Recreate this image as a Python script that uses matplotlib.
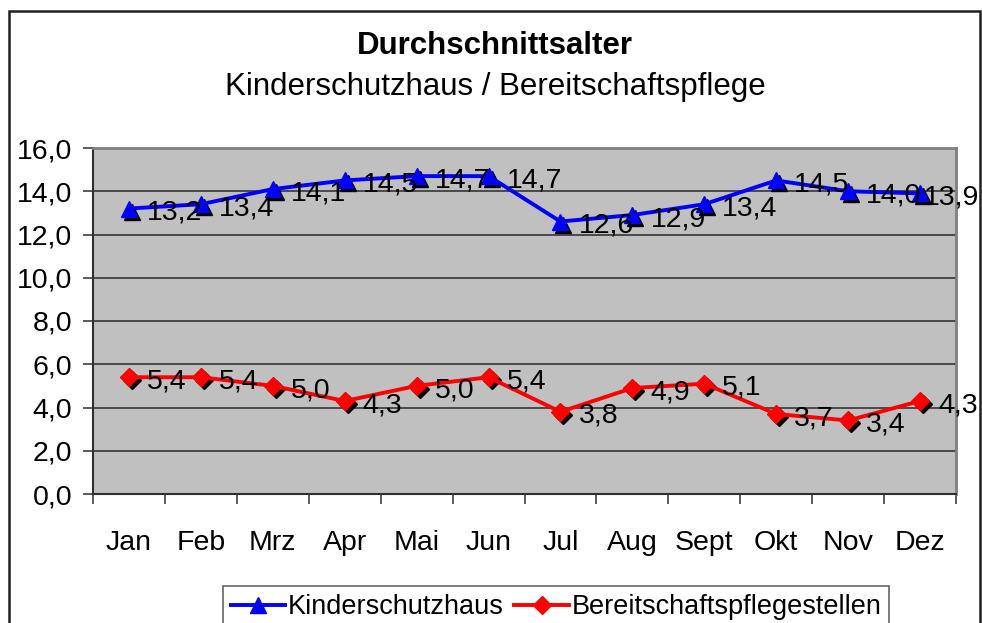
import matplotlib
matplotlib.use("Agg")
import matplotlib.pyplot as plt
import matplotlib.transforms as mtransforms
from matplotlib.patches import Rectangle

plt.rcParams['font.family'] = ['Liberation Sans', 'DejaVu Sans']

# Data
months = ['Jan', 'Feb', 'Mrz', 'Apr', 'Mai', 'Jun', 'Jul', 'Aug', 'Sept', 'Okt', 'Nov', 'Dez']
kinderschutzhaus = [13.2, 13.4, 14.1, 14.5, 14.7, 14.7, 12.6, 12.9, 13.4, 14.5, 14.0, 13.9]
bereitschaft = [5.4, 5.4, 5.0, 4.3, 5.0, 5.4, 3.8, 4.9, 5.1, 3.7, 3.4, 4.3]
y_ticks = [0, 2, 4, 6, 8, 10, 12, 14, 16]

fig = plt.figure(figsize=(9.82, 6.23), dpi=100)
ax = fig.add_axes([93 / 982, 1 - 494 / 623, (956 - 93) / 982, (494 - 148) / 623])
ax.set_facecolor('#C0C0C0')

x = list(range(len(months)))
shadow = mtransforms.offset_copy(ax.transData, fig=fig, x=3, y=-3, units='dots')

# marker shadows
ax.plot(x, kinderschutzhaus, linestyle='none', marker='^', markersize=11,
        color='black', transform=shadow, zorder=3, clip_on=False)
ax.plot(x, bereitschaft, linestyle='none', marker='D', markersize=9,
        color='black', transform=shadow, zorder=3, clip_on=False)

ax.plot(x, kinderschutzhaus, color='#0000FF', linewidth=2.8, marker='^',
        markersize=11, label='Kinderschutzhaus', zorder=4, clip_on=False)
ax.plot(x, bereitschaft, color='#FF0000', linewidth=2.8, marker='D',
        markersize=9, label='Bereitschaftspflegestellen', zorder=4, clip_on=False)

for i, v in enumerate(kinderschutzhaus):
    # last label is pushed left so it stays inside the chart, like Excel does
    dx = 3 if i == len(kinderschutzhaus) - 1 else 13
    ax.annotate(f'{v:.1f}'.replace('.', ','), (i, v), xytext=(dx, -3),
                textcoords='offset points', ha='left', va='center',
                fontsize=20.5, zorder=5, annotation_clip=False)
for i, v in enumerate(bereitschaft):
    ax.annotate(f'{v:.1f}'.replace('.', ','), (i, v), xytext=(13, -3),
                textcoords='offset points', ha='left', va='center',
                fontsize=20.5, zorder=5, annotation_clip=False)

ax.set_xlim(-0.5, len(months) - 0.5)
ax.set_ylim(0, 16)
ax.set_yticks(y_ticks)
ax.set_yticklabels([f'{t:.1f}'.replace('.', ',') for t in y_ticks], fontsize=20.5)
ax.set_xticks(x)
ax.set_xticklabels(months, fontsize=20.5)
ax.set_xticks([i - 0.5 for i in range(len(months) + 1)], minor=True)
ax.tick_params(axis='x', which='major', length=0, pad=26)
ax.tick_params(axis='x', which='minor', length=7, width=1.2, color='#404040')
ax.tick_params(axis='y', length=7, width=1.2, pad=8, color='#404040')

ax.yaxis.grid(True, color='#404040', linewidth=1.3)
ax.set_axisbelow(True)

for side in ['top', 'right']:
    ax.spines[side].set_color('#808080')
    ax.spines[side].set_linewidth(2)
for side in ['left', 'bottom']:
    ax.spines[side].set_color('#303030')
    ax.spines[side].set_linewidth(1.5)

fig.text(0.504, 1 - 46 / 623, 'Durchschnittsalter', ha='center', va='center',
         fontsize=22.5, fontweight='bold')
fig.text(0.504, 1 - 87 / 623, 'Kinderschutzhaus / Bereitschaftspflege',
         ha='center', va='center', fontsize=22.5)

leg = fig.legend(loc='center', bbox_to_anchor=(556 / 982, 1 - 607 / 623),
                 ncol=2, fontsize=19.5, frameon=True, fancybox=False,
                 handlelength=2.0, handletextpad=0.1, columnspacing=0.4,
                 borderpad=0.3, borderaxespad=0.2)
leg.get_frame().set_edgecolor('#404040')
leg.get_frame().set_linewidth(1.2)

# outer chart border
fig.patches.append(Rectangle((9 / 982, -0.02), (980 - 9) / 982, 1.02 - 11 / 623,
                             transform=fig.transFigure, fill=False,
                             edgecolor='#202020', linewidth=1.8))

fig.savefig('out.png', dpi=100)
